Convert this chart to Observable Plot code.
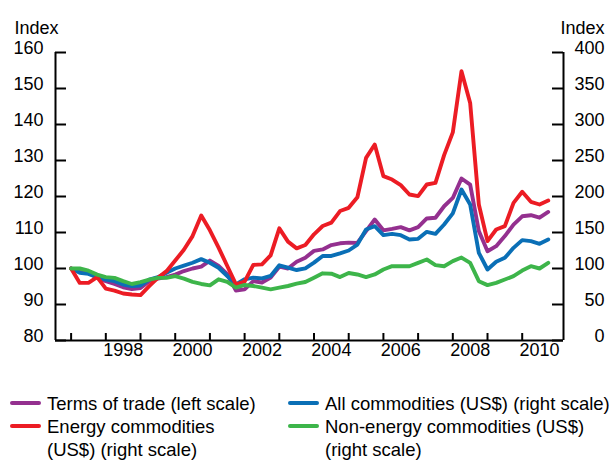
<!DOCTYPE html>
<html><head><meta charset="utf-8">
<script src="https://cdn.jsdelivr.net/npm/d3@7"></script>
<script src="https://cdn.jsdelivr.net/npm/@observablehq/plot@0.6"></script>
<style>
body{margin:0;background:#fff;font-family:"Liberation Sans",Arial,sans-serif;}
#wrap{position:relative;width:615px;height:460px;overflow:hidden;}
.item{position:absolute;font-size:18.5px;line-height:23px;color:#000;white-space:nowrap;}
.sw{position:absolute;width:31px;height:4px;border-radius:2px;}
</style></head><body><div id="wrap"><div id="chart"></div></div>
<script>
// Quarterly observations, first quarter plotted at 1997.0
const firstQuarter = 1997;
const nQuarters = 56;
const quarters = d3.range(nQuarters).map(i => firstQuarter + i / 4);

// Terms of trade (left scale, index)
const termsOfTrade = [100, 99.3, 98.8, 97.4, 96.5, 95.7, 94.8, 94.3, 94.6, 96.5, 97.2, 97.6, 98.3, 99.3, 100, 100.5,
  102.2, 100.7, 98.4, 93.9, 94.2, 96.5, 96.1, 97.5, 100.5, 100, 101.9, 103, 104.9, 105.3, 106.5, 107,
  107.2, 107.1, 110.4, 113.6, 110.6, 111, 111.5, 110.6, 111.5, 113.9, 114.1, 117.3, 119.6, 125,
  123.3, 110.4, 104.8, 106.2, 109, 112.2, 114.5, 114.8, 114.1, 115.7];
// All commodities (US$) (right scale)
const allCommodities = [100, 94, 92.6, 88, 84.7, 82.4, 77.8, 75.5, 76.4, 84.7, 88, 94, 100, 104, 108, 113,
  108, 101, 89.6, 78, 85, 87.3, 86.3, 89.6, 104.4, 101.2, 97.9, 100.2, 108.1, 117.4, 117.4, 121,
  125, 133.3, 154.2, 158.8, 146.3, 148.1, 146.3, 140.3, 141.2, 150.9, 148.1, 161.1, 176.5, 209.7,
  188.9, 121.8, 98.6, 109.3, 114.8, 128.7, 139.4, 138, 134.3, 140.3];
// Energy commodities (US$) (right scale)
const energy = [100, 80, 80, 88, 72, 69.4, 65.3, 63.9, 63, 75.5, 87, 96.3, 111, 126, 145, 173.5,
  153, 129, 103.5, 78, 81.7, 104.9, 105.8, 118.3, 155.8, 137.3, 128, 132.6, 147.5, 159, 163.7, 179.8,
  184.3, 199, 253.7, 272.2, 228.2, 223.6, 215.7, 202.8, 200.5, 216.7, 219, 257.4, 289, 374,
  330, 188.9, 138, 154.2, 158.8, 191.2, 206.5, 192.6, 188.9, 194.4];
// Non-energy commodities (US$) (right scale)
const nonEnergy = [100, 100, 97, 91.5, 88, 87, 82.5, 78.5, 81, 84.5, 87, 87, 89.5, 86, 81.5, 78.5,
  76.5, 85, 81.3, 73.4, 77.1, 75.7, 73.4, 71.1, 73.4, 75.7, 78.9, 81.3, 87.3, 93.3, 92.8, 88.1,
  93.7, 91.7, 88, 91.7, 98.6, 103.2, 103.2, 103.2, 107.9, 112.5, 104.6, 103.2, 110.2, 115.2,
  107.9, 82.4, 76.9, 80.1, 84.7, 89.4, 97.2, 103.2, 100, 107.9];

const seriesNames = ["Terms of trade (left scale)", "All commodities (US$) (right scale)",
  "Energy commodities\n(US$) (right scale)", "Non-energy commodities (US$)\n(right scale)"];
const seriesColors = ["#94308F", "#0A6FB6", "#EC1C24", "#3DB54A"];

const leftTicks = [80, 90, 100, 110, 120, 130, 140, 150, 160];
const rightTicks = [0, 50, 100, 150, 200, 250, 300, 350, 400];
const tickYears = [1997, 1998, 1999, 2000, 2001, 2002, 2003, 2004, 2005, 2006, 2007, 2008, 2009, 2010];
const labelYears = [1998, 2000, 2002, 2004, 2006, 2008, 2010];
const xDomain = [1996.55, 2011.19];
const yDomain = [80, 160];

// right scale value -> left scale position
const toLeft = v => yDomain[0] + (v - rightTicks[0]) * (yDomain[1] - yDomain[0]) / (rightTicks[rightTicks.length - 1] - rightTicks[0]);

const rows = quarters.map((t, i) => ({t, tot: termsOfTrade[i], all: allCommodities[i], energy: energy[i], nonEnergy: nonEnergy[i]}));

const W = 615, H = 370, mT = 52, mB = 30, mL = 55, mR = 52;
const plotW = W - mL - mR, plotH = H - mT - mB;
const lw = 3.9;
const ax = {stroke: "#000", strokeWidth: 2};
const txt = {fill: "#000", fontSize: 18};

const chart = Plot.plot({
  width: W, height: H, marginTop: mT, marginBottom: mB, marginLeft: mL, marginRight: mR,
  x: {domain: xDomain, axis: null},
  y: {domain: yDomain, axis: null},
  style: {fontFamily: "'Liberation Sans', Arial, sans-serif", background: "#fff", overflow: "visible"},
  marks: [
    Plot.ruleY([yDomain[0]], ax),
    Plot.ruleX(xDomain, ax),
    Plot.tickY(leftTicks, {y: d => d, insetRight: plotW - 11, ...ax}),
    Plot.tickY(rightTicks, {y: toLeft, insetLeft: plotW - 11, ...ax}),
    Plot.tickX(tickYears, {x: d => d, insetTop: plotH - 7, ...ax}),
    Plot.text(leftTicks, {y: d => d, frameAnchor: "left", dx: -12, dy: -4.5, textAnchor: "end", text: d => String(d), ...txt}),
    Plot.text(rightTicks, {y: toLeft, frameAnchor: "right", dx: 41, dy: -4.5, textAnchor: "end", text: d => String(d), ...txt}),
    Plot.text(labelYears, {x: d => d + 0.5, frameAnchor: "bottom", dy: 15.5, text: d => String(d), ...txt}),
    Plot.text(["Index"], {frameAnchor: "top-left", dx: -41, dy: -31, textAnchor: "start", ...txt}),
    Plot.text(["Index"], {frameAnchor: "top-right", dx: 41, dy: -31, textAnchor: "end", ...txt}),
    Plot.line(rows, {x: "t", y: "tot", stroke: seriesColors[0], strokeWidth: lw, strokeLinejoin: "round"}),
    Plot.line(rows, {x: "t", y: d => toLeft(d.all), stroke: seriesColors[1], strokeWidth: lw, strokeLinejoin: "round"}),
    Plot.line(rows, {x: "t", y: d => toLeft(d.energy), stroke: seriesColors[2], strokeWidth: lw, strokeLinejoin: "round"}),
    Plot.line(rows, {x: "t", y: d => toLeft(d.nonEnergy), stroke: seriesColors[3], strokeWidth: lw, strokeLinejoin: "round"})
  ]
});
document.getElementById("chart").appendChild(chart);

// Legend (two columns)
const wrap = document.getElementById("wrap");
const legendPos = [[10, 403], [288, 403], [10, 426], [288, 426]];
seriesNames.forEach((name, i) => {
  const [lx, ly] = legendPos[i];
  const sw = document.createElement("div");
  sw.className = "sw";
  sw.style.left = lx + "px";
  sw.style.top = (ly - 2) + "px";
  sw.style.background = seriesColors[i];
  wrap.appendChild(sw);
  const t = document.createElement("div");
  t.className = "item";
  t.style.left = (lx + 37) + "px";
  t.style.top = (ly - 11.5) + "px";
  t.innerHTML = name.split("\n").join("<br>");
  wrap.appendChild(t);
});
</script></body></html>
